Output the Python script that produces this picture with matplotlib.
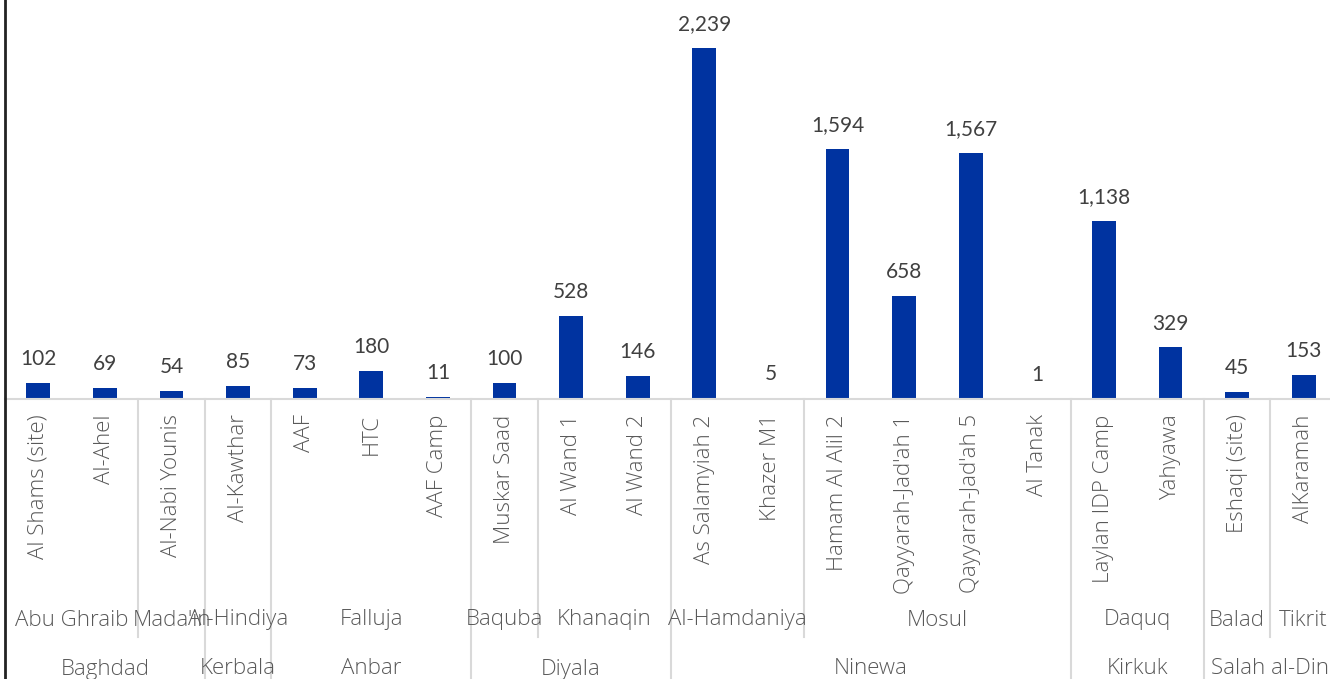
import numpy as np
import matplotlib
matplotlib.use("Agg")
import matplotlib.pyplot as plt
from matplotlib.lines import Line2D

# data
sites = ["Al Shams (site)", "Al-Ahel", "Al-Nabi Younis", "Al-Kawthar", "AAF", "HTC",
         "AAF Camp", "Muskar Saad", "Al Wand 1", "Al Wand 2", "As Salamyiah 2",
         "Khazer M1", "Hamam Al Alil 2", "Qayyarah-Jad'ah 1", "Qayyarah-Jad'ah 5",
         "Al Tanak", "Laylan IDP Camp", "Yahyawa", "Eshaqi (site)", "AlKaramah"]
values = [102, 69, 54, 85, 73, 180, 11, 100, 528, 146, 2239, 5, 1594, 658, 1567,
          1, 1138, 329, 45, 153]
# (name, first site index, last site index)
districts = [("Abu Ghraib", 0, 1), ("Mada'in", 2, 2), ("Al-Hindiya", 3, 3),
             ("Falluja", 4, 6), ("Baquba", 7, 7), ("Khanaqin", 8, 9),
             ("Al-Hamdaniya", 10, 11), ("Mosul", 12, 15), ("Daquq", 16, 17),
             ("Balad", 18, 18), ("Tikrit", 19, 19)]
governorates = [("Baghdad", 0, 2), ("Kerbala", 3, 3), ("Anbar", 4, 6),
                ("Diyala", 7, 9), ("Ninewa", 10, 15), ("Kirkuk", 16, 17),
                ("Salah al-Din", 18, 19)]

W, H = 1330, 679
BASE = 399  # pixel row of the category axis
BAR_COLOR = "#0033A0"
SEP_COLOR = "#D9D9D9"
LABEL_COLOR = "#595959"
CAT_FONT = dict(fontsize=16, color=LABEL_COLOR, family="Open Sans", fontweight="light")

fig = plt.figure(figsize=(W / 100, H / 100), dpi=100)
ax = fig.add_axes([5 / W, (H - BASE) / H, 1332 / W, BASE / H])

x = np.arange(len(values))
ax.bar(x, values, width=0.36, color=BAR_COLOR)
ax.set_xlim(-0.5, len(values) - 0.5)
ax.set_ylim(0, 2545)

for xi, v in zip(x, values):
    ax.annotate(f"{v:,}", (xi, v), xytext=(0, 10), textcoords="offset points",
                ha="center", va="bottom", fontsize=15, color="#404040",
                family="Lato")

for s in ["top", "right", "left"]:
    ax.spines[s].set_visible(False)
ax.spines["bottom"].set_color(SEP_COLOR)
ax.spines["bottom"].set_linewidth(1.5)
ax.set_yticks([])
ax.set_xticks(x)
ax.set_xticklabels(sites, rotation=90, **CAT_FONT)
ax.tick_params(axis="x", length=0, pad=11)

tr = ax.get_xaxis_transform()


def ypix(p):
    # pixel row -> axes fraction
    return (BASE - p) / BASE


for name, a, b in districts:
    ax.text((a + b) / 2, ypix(620), name, transform=tr, ha="center", va="center",
            clip_on=False, **CAT_FONT)
for name, a, b in governorates:
    ax.text((a + b) / 2, ypix(669), name, transform=tr, ha="center", va="center",
            clip_on=False, **CAT_FONT)

gov_edges = {b + 0.5 for _, _, b in governorates}
for _, _, b in districts[:-1]:
    e = b + 0.5
    bottom = H + 5 if e in gov_edges else 637
    ax.plot([e, e], [ypix(BASE), ypix(bottom)], transform=tr, color=SEP_COLOR,
            lw=1.5, clip_on=False)

# left border line
fig.add_artist(Line2D([5 / W, 5 / W], [0, 1], color="#222222", lw=2))

fig.savefig("out.png", dpi=100)
